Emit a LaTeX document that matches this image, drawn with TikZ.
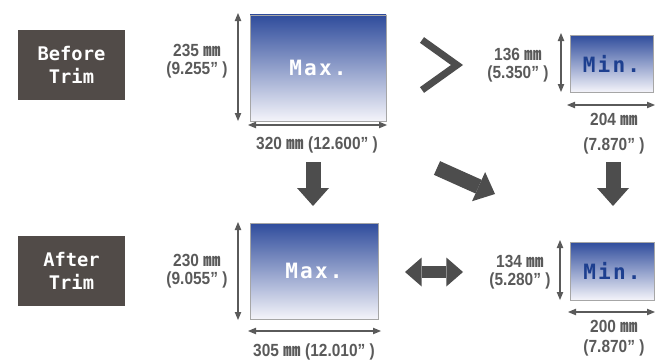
\documentclass[tikz,border=0pt]{standalone}
\usepackage{fontspec}
\setmainfont{Liberation Sans}
\newfontfamily\dimfont[FakeStretch=0.88]{Liberation Sans}
\newfontfamily\cjkfont{Noto Sans CJK JP}
\newfontfamily\boxfont{DejaVu Sans Mono}
\newfontfamily\sheetfont[LetterSpace=10]{DejaVu Sans Mono}
\usetikzlibrary{arrows.meta}

\definecolor{boxgray}{HTML}{514B48}
\definecolor{arrowgray}{HTML}{4D4D4D}
\definecolor{dimgray}{HTML}{5A5A5A}
\definecolor{sheetblue}{HTML}{2F4C9C}
\definecolor{sheetwhite}{HTML}{F4F4FA}
\definecolor{minblue}{HTML}{1D3F8F}

\newcommand{\mmsign}{{\cjkfont\bfseries ㎜}}

\tikzset{
    trimlabel/.style = {fill=boxgray, text=white, minimum width=32.1mm, minimum height=21mm, align=center,
                        font=\boxfont\bfseries\fontsize{16}{19.6}\selectfont},
    sheet/.style     = {draw=gray!70, line width=0.5pt, top color=sheetblue, bottom color=sheetwhite, inner sep=0pt,
                        text=white, font=\sheetfont\bfseries\fontsize{18}{20}\selectfont},
    dimlabel/.style  = {text=dimgray, align=center, inner sep=0pt, font=\dimfont\bfseries\fontsize{15}{15.5}\selectfont},
    dimline/.style   = {draw=dimgray, line width=0.6mm,
                        {Triangle[length=2.4mm, width=2mm, line width=0pt]}-{Triangle[length=2.4mm, width=2mm, line width=0pt]}},
    blockarrow/.style = {draw=arrowgray, line width=4.5mm, -{Triangle[length=5.4mm, width=9.6mm, line width=0pt]}},
    dblarrow/.style   = {draw=arrowgray, line width=3.6mm,
                        {Triangle[length=5mm, width=8.7mm, line width=0pt]}-{Triangle[length=5mm, width=8.7mm, line width=0pt]}},
}

\begin{document}
\begin{tikzpicture}[x=0.3mm, y=-0.3mm]
    \useasboundingbox (0,0) rectangle (655,360);

    {
        % row labels
        \node[trimlabel] (before) at (71.5,65)  {Before\\Trim};
        \node[trimlabel] (after)  at (71.5,271) {After\\Trim};

        % sheets
        \node[sheet, minimum width=40.8mm, minimum height=31.8mm] (maxtop) at (318,68)    {Max.};
        \node[sheet, minimum width=24.9mm, minimum height=17.1mm, text=minblue] (mintop) at (611.5,63.5) {Min.};
        \node[sheet, minimum width=38.4mm, minimum height=28.8mm] (maxbot) at (314,271)   {Max.};
        \node[sheet, minimum width=25.2mm, minimum height=17.4mm, text=minblue] (minbot) at (612,271) {Min.};

        % sizes
        \node[dimlabel] (maxtoph) at (197,61)  {235 \mmsign\\(9.255” )};
        \node[dimlabel] (maxtopw) at (317,145) {320 \mmsign\ (12.600” )};
        \node[dimlabel] (mintoph) at (518,65)  {136 \mmsign\\(5.350” )};
        \node[dimlabel] (mintopw) at (614,134) {204 \mmsign\\[6pt](7.870” )};
        \node[dimlabel] (maxboth) at (197,271) {230 \mmsign\\(9.055” )};
        \node[dimlabel] (maxbotw) at (314,352) {305 \mmsign\ (12.010” )};
        \node[dimlabel] (minboth) at (520,272) {134 \mmsign\\(5.280” )};
        \node[dimlabel] (minbotw) at (614,338) {200 \mmsign\\[2pt](7.870” )};
    }

    % dimension arrows
    \coordinate (mth1) at (238,13);  \coordinate (mth2) at (238,121);
    \coordinate (mtw1) at (248,125); \coordinate (mtw2) at (387,125);
    \coordinate (nth1) at (561,33);  \coordinate (nth2) at (561,92);
    \coordinate (ntw1) at (567,105); \coordinate (ntw2) at (655,105);
    \coordinate (mbh1) at (238,222); \coordinate (mbh2) at (238,320);
    \coordinate (mbw1) at (248,331); \coordinate (mbw2) at (381,331);
    \coordinate (nbh1) at (560,240); \coordinate (nbh2) at (560,300);
    \coordinate (nbw1) at (568,312); \coordinate (nbw2) at (655,312);

    \draw[dimline] (mth1) -- (mth2);
    \draw[dimline] (mtw1) -- (mtw2);
    \draw[dimline] (nth1) -- (nth2);
    \draw[dimline] (ntw1) -- (ntw2);
    \draw[dimline] (mbh1) -- (mbh2);
    \draw[dimline] (mbw1) -- (mbw2);
    \draw[dimline] (nbh1) -- (nbh2);
    \draw[dimline] (nbw1) -- (nbw2);

    % big arrows
    \coordinate (downl1) at (313,162); \coordinate (downl2) at (313,206);
    \coordinate (downr1) at (613,162); \coordinate (downr2) at (613,206);
    \coordinate (diag1)  at (437,168); \coordinate (diag2)  at (495,194);
    \coordinate (both1)  at (405,272); \coordinate (both2)  at (463,272);

    \draw[blockarrow] (downl1) -- (downl2);
    \draw[blockarrow] (downr1) -- (downr2);
    \draw[blockarrow] (diag1) -- (diag2);
    \draw[dblarrow] (both1) -- (both2);

    % greater-than sign
    \draw[arrowgray, line width=2.1mm] (422,40) -- (457,65) -- (422,90);

\end{tikzpicture}
\end{document}
